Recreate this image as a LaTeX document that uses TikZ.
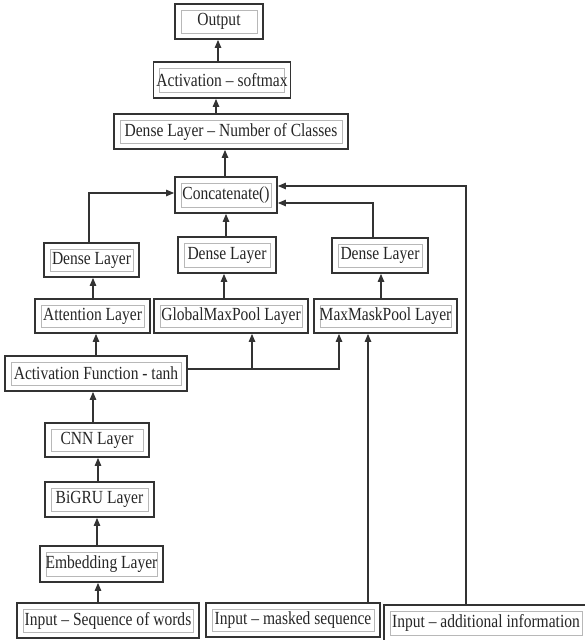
\documentclass[tikz,border=0pt]{standalone}
\usepackage{fontspec}
\setmainfont{Liberation Serif}[FakeStretch=0.84]
\usetikzlibrary{arrows.meta}
\begin{document}
\begin{tikzpicture}[x=1pt,y=-1pt,
  layer/.style={draw=black!80, line width=1.8pt, inner sep=0pt, text=black!85,
    font=\fontsize{18.5}{20}\selectfont,
    path picture={\draw[black!28, line width=0.9pt]
      ([shift={(6pt,6pt)}]path picture bounding box.south west) rectangle
      ([shift={(-6pt,-6pt)}]path picture bounding box.north east);}},
  link/.style={draw=black!80, line width=1.2pt, -{Triangle[length=8pt,width=6.5pt]}},
  plain/.style={draw=black!80, line width=1.2pt}]
\useasboundingbox (0,0) rectangle (585,640);
\fill[white] (0,0) rectangle (585,640);

% layers
\node[layer, minimum width=88pt,  minimum height=35pt] (out)  at (219,21.5)  {Output};
\node[layer, minimum width=137pt, minimum height=36pt] (sm)   at (222,80)    {Activation -- softmax};
\node[layer, minimum width=234pt, minimum height=35pt] (cls)  at (231,131.5) {Dense Layer -- Number of Classes};
\node[layer, minimum width=102pt, minimum height=36pt] (cat)  at (226,195)   {Concatenate()};
\node[layer, minimum width=95pt,  minimum height=34pt] (d1)   at (91.5,260)  {Dense Layer};
\node[layer, minimum width=98pt,  minimum height=36pt] (d2)   at (227,255)   {Dense Layer};
\node[layer, minimum width=96pt,  minimum height=35pt] (d3)   at (380,255.5) {Dense Layer};
\node[layer, minimum width=115pt, minimum height=34pt] (att)  at (92.5,316)  {Attention Layer};
\node[layer, minimum width=154pt, minimum height=34pt] (gmp)  at (231,316)   {GlobalMaxPool Layer};
\node[layer, minimum width=143pt, minimum height=34pt] (mmp)  at (385.5,316) {MaxMaskPool Layer};
\node[layer, minimum width=182pt, minimum height=35pt] (tanh) at (96,373.5)  {Activation Function - tanh};
\node[layer, minimum width=104pt, minimum height=34pt] (cnn)  at (97,440)    {CNN Layer};
\node[layer, minimum width=109pt, minimum height=35pt] (gru)  at (99.5,499.5) {BiGRU Layer};
\node[layer, minimum width=123pt, minimum height=36pt] (emb)  at (101.5,564) {Embedding Layer};
\node[layer, minimum width=182pt, minimum height=35pt] (in1)  at (108,620.5) {Input -- Sequence of words};
\node[layer, minimum width=174pt, minimum height=34pt] (in2)  at (293,620)   {Input -- masked sequence};
\node[layer, minimum width=204pt, minimum height=36pt] (in3)  at (486,623)   {Input -- additional information};

% main word-sequence branch
\draw[link] (in1.north -| 98,0) -- (emb.south -| 98,0);
\draw[link] (emb.north -| 97,0) -- (gru.south -| 97,0);
\draw[link] (gru.north -| 98,0) -- (cnn.south -| 98,0);
\draw[link] (cnn.north -| 93,0) -- (tanh.south -| 93,0);
\draw[link] (tanh.north -| 96,0) -- (att.south -| 96,0);
\draw[link] (att.north -| 93,0) -- (d1.south -| 93,0);
\draw[link] (d1.north -| 89,0) |- (cat.west |- 0,193);

% pooling branches fed by tanh
\coordinate (split) at (252,369);
\draw[link] (tanh.east |- 0,369) -| (mmp.south -| 339,0);
\draw[link] (split) -- (gmp.south -| 252,0);
\draw[link] (gmp.north -| 224,0) -- (d2.south -| 224,0);
\draw[link] (d2.north -| 226,0) -- (cat.south -| 226,0);
\draw[link] (in2.north -| 368,0) -- (mmp.south -| 368,0);
\draw[link] (mmp.north -| 381,0) -- (d3.south -| 381,0);
\draw[link] (d3.north -| 373,0) |- (cat.east |- 0,203);
\draw[link] (in3.north -| 466,0) |- (cat.east |- 0,186);

% output head
\draw[link] (cat.north -| 225,0) -- (cls.south -| 225,0);
\draw[link] (cls.north -| 216,0) -- (sm.south -| 216,0);
\draw[link] (sm.north -| 218,0) -- (out.south -| 218,0);
\end{tikzpicture}
\end{document}
